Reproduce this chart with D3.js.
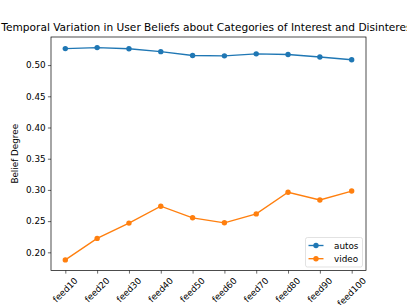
<!DOCTYPE html>
<html>
<head>
<meta charset="utf-8">
<script src="https://cdn.jsdelivr.net/npm/d3@7"></script>
<style>
  body { margin: 0; background: #fff; }
  svg { display: block; font-family: "DejaVu Sans", sans-serif; }
</style>
</head>
<body>
<script>
const w = 407;
const h = 305;

const feeds = ["feed10", "feed20", "feed30", "feed40", "feed50", "feed60", "feed70", "feed80", "feed90", "feed100"];
const autos = [0.5264, 0.5280, 0.5262, 0.5215, 0.5153, 0.5148, 0.5180, 0.5170, 0.5130, 0.5085];
const video = [0.1879, 0.2223, 0.2468, 0.2739, 0.2553, 0.2473, 0.2616, 0.2962, 0.2839, 0.2982];
const yTicks = [0.20, 0.25, 0.30, 0.35, 0.40, 0.45, 0.50];

const series = [
    { name: "autos", values: autos, color: "#1f77b4" },
    { name: "video", values: video, color: "#ff7f0e" }
];

const plotLeft = 51, plotRight = 366, plotTop = 37, plotBottom = 270.5;

const svg = d3.select("body")
    .append("svg")
    .attr("width", w)
    .attr("height", h)
    ;

const xScale = d3.scalePoint()
    .domain(feeds)
    .range([plotLeft, plotRight])
    .padding(0.45)
    ;

const all = autos.concat(video);
const lo = d3.min(all), hi = d3.max(all);
const pad = (hi - lo) * 0.05;
const yScale = d3.scaleLinear()
    .domain([lo - pad, hi + pad])
    .range([plotBottom, plotTop])
    ;

// title
svg.append("text")
    .attr("x", (plotLeft + plotRight) / 2)
    .attr("y", 30.5)
    .attr("text-anchor", "middle")
    .attr("font-size", "10.6px")
    .text("Temporal Variation in User Beliefs about Categories of Interest and Disinterest");

// y axis
const yAxis = d3.axisLeft(yScale)
    .tickValues(yTicks)
    .tickFormat(d3.format(".2f"))
    .tickSize(3.1)
    .tickPadding(2.3)
    ;
const gy = svg.append("g")
    .attr("transform", "translate(" + plotLeft + ",0)")
    .call(yAxis);
gy.select(".domain").remove();
gy.selectAll("line").attr("stroke", "#000").attr("stroke-width", 0.6);
gy.selectAll("text").attr("font-size", "8.8px").attr("font-family", "DejaVu Sans").attr("fill", "#000");

// x axis
const xAxis = d3.axisBottom(xScale)
    .tickSize(3.1)
    .tickFormat("")
    ;
const gx = svg.append("g")
    .attr("transform", "translate(0," + plotBottom + ")")
    .call(xAxis);
gx.select(".domain").remove();
gx.selectAll("line").attr("stroke", "#000").attr("stroke-width", 0.6);

// rotated x labels, bbox centred under the tick
const labelTop = plotBottom + 3.1 + 2.4;
const th = 8.8;
feeds.forEach(f => {
    const t = svg.append("text")
        .attr("font-size", "8.8px")
        .attr("text-anchor", "middle")
        .attr("dominant-baseline", "central")
        .text(f);
    const tw = t.node().getComputedTextLength();
    const cx = xScale(f);
    const cy = labelTop + (tw + th) * Math.SQRT1_2 / 2;
    t.attr("transform", "translate(" + cx + "," + cy + ") rotate(-45)");
});

// y label
svg.append("text")
    .attr("transform", "translate(18," + ((plotTop + plotBottom) / 2) + ") rotate(-90)")
    .attr("text-anchor", "middle")
    .attr("font-size", "8.8px")
    .text("Belief Degree");

// lines + markers
const line = d3.line()
    .x((d, i) => xScale(feeds[i]))
    .y(d => yScale(d));

series.forEach(s => {
    svg.append("path")
        .datum(s.values)
        .attr("d", line)
        .attr("fill", "none")
        .attr("stroke", s.color)
        .attr("stroke-width", 1.35);
    svg.selectAll(null)
        .data(s.values)
        .enter()
        .append("circle")
        .attr("cx", (d, i) => xScale(feeds[i]))
        .attr("cy", d => yScale(d))
        .attr("r", 2.7)
        .attr("fill", s.color);
});

// frame
svg.append("rect")
    .attr("x", plotLeft)
    .attr("y", plotTop)
    .attr("width", plotRight - plotLeft)
    .attr("height", plotBottom - plotTop)
    .attr("fill", "none")
    .attr("stroke", "#000")
    .attr("stroke-width", 0.7);

// legend
const lg = svg.append("g").attr("transform", "translate(305.5,237.5)");
lg.append("rect")
    .attr("width", 57)
    .attr("height", 29.5)
    .attr("rx", 2)
    .attr("fill", "#fff")
    .attr("fill-opacity", 0.8)
    .attr("stroke", "#d6d6d6")
    .attr("stroke-width", 0.7);
series.forEach((s, i) => {
    const y = 8 + i * 13.2;
    lg.append("line")
        .attr("x1", 3).attr("x2", 18)
        .attr("y1", y).attr("y2", y)
        .attr("stroke", s.color)
        .attr("stroke-width", 1.35);
    lg.append("circle")
        .attr("cx", 10.5).attr("cy", y)
        .attr("r", 2.7)
        .attr("fill", s.color);
    lg.append("text")
        .attr("x", 28.5)
        .attr("y", y)
        .attr("dominant-baseline", "central")
        .attr("font-size", "8.8px")
        .text(s.name);
});
</script>
</body>
</html>
